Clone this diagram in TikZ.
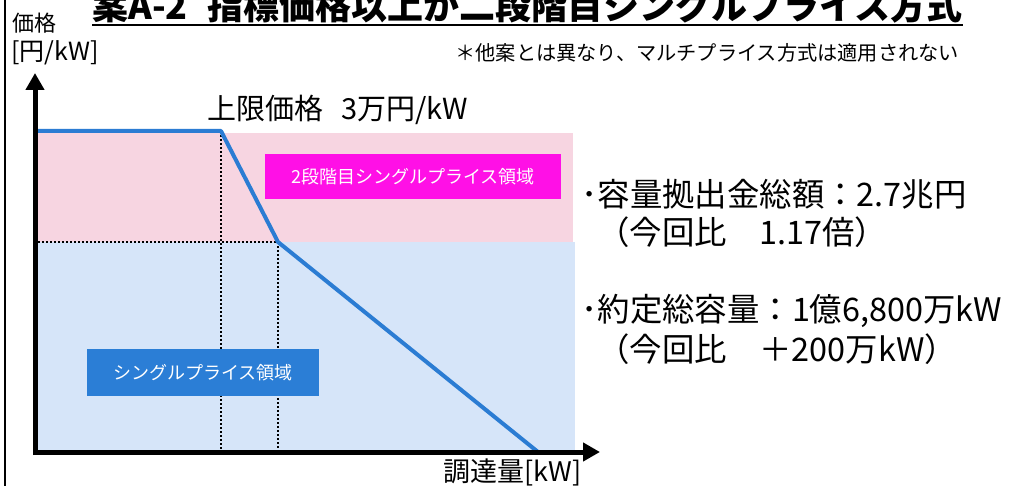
\documentclass[tikz,border=0pt]{standalone}
\usepackage{fontspec}
\setmainfont{Noto Sans CJK JP}
\usepackage{tikz}
\usetikzlibrary{arrows.meta}

\definecolor{upperpink}{HTML}{F7D5E1}
\definecolor{lowerblue}{HTML}{D6E5F9}
\definecolor{curveblue}{HTML}{2B7CD3}
\definecolor{boxmagenta}{HTML}{FF10E6}
\definecolor{boxblue}{HTML}{2B7ED6}

\tikzset{
  axisarrow/.style={line width=2.5pt, -{Triangle[length=8.5pt,width=9pt]}},
  guide/.style={line width=1pt, dash pattern=on 1pt off 1pt},
  areabox/.style={text=white, font=\fontsize{9}{9}\selectfont, inner sep=0pt},
  bigtext/.style={anchor=west, font=\fontsize{16.2}{16.2}\selectfont, inner sep=0pt},
}

\begin{document}
\begin{tikzpicture}[x=0.5pt,y=-0.5pt]% 1 unit = 1 px of the slide
  \clip (0,0) rectangle (1018,486);
  \fill[white] (0,0) rectangle (1018,486);

  % frame edge on the left
  \coordinate (frameTop) at (5,0);
  \coordinate (frameFoot) at (5,486);
  \draw[line width=1pt] (frameTop) -- (frameFoot);

  % price areas
  \fill[upperpink] (38,133) rectangle (573,242);
  \fill[lowerblue] (38,242) rectangle (575,452);

  \coordinate (capStart) at (38,131);
  \coordinate (capEnd) at (221,131);
  \coordinate (kink) at (278,242);
  \coordinate (zeroPt) at (538,452);
  \coordinate (capFoot) at (221,452);
  \coordinate (kinkFoot) at (278,452);
  \coordinate (kinkLeft) at (38,242);

  \draw[guide] (capEnd) -- (capFoot);
  \draw[guide] (kink) -- (kinkFoot);
  \draw[guide] (kinkLeft) -- (kink);

  \draw[curveblue, line width=2pt, line join=round] (capStart) -- (capEnd) -- (kink) -- (zeroPt);

  % axes
  \coordinate (yFoot) at (35,455);
  \coordinate (yTop) at (35,73);
  \coordinate (xStart) at (33,452);
  \coordinate (xEnd) at (600,452);
  \draw[axisarrow] (yFoot) -- (yTop);
  \draw[axisarrow] (xStart) -- (xEnd);

  \node[areabox, fill=boxmagenta, minimum width=148pt, minimum height=22.5pt] (secondBox) at (413,176.5) {2段階目シングルプライス領域};
  \node[areabox, fill=boxblue, minimum width=116pt, minimum height=23.5pt] (singleBox) at (203,372.5) {シングルプライス領域};

  \node[anchor=west, inner sep=0pt, font=\fontsize{14.5}{14.5}\selectfont] (capLabel) at (207,110) {上限価格\hspace{9pt}3万円/kW};
  \node[anchor=west, inner sep=0pt, font=\fontsize{11}{11}\selectfont] (priceLabel) at (12,23) {価格};
  \node[anchor=west, inner sep=0pt, font=\fontsize{12.5}{12.5}\selectfont] (unitLabel) at (11,53) {[円/kW]};
  \node[anchor=west, inner sep=0pt, font=\fontsize{13.5}{13.5}\selectfont] (qtyLabel) at (443,472) {調達量[kW]};
  \node[anchor=west, inner sep=0pt, font=\fontsize{10.1}{10.1}\selectfont] (note) at (455,53) {＊他案とは異なり、マルチプライス方式は適用されない};

  % title, cut by the top edge
  \node[anchor=base west, inner sep=0pt, font=\bfseries\fontsize{18}{18}\selectfont] (title) at (92,20) {案A-2\hspace{10pt}指標価格以上が二段階目シングルプライス方式};
  \draw[line width=1.4pt] ([yshift=-2.5pt]title.base west) -- ([yshift=-2.5pt]title.base east);

  % results
  \node[bigtext] (total1) at (581,194) {･容量拠出金総額：2.7兆円};
  \node[bigtext] (total1b) at (597,232) {（今回比　1.17倍）};
  \node[bigtext] (total2) at (581,311) {･約定総容量：1億6,800万kW};
  \node[bigtext] (total2b) at (597,349) {（今回比　＋200万kW）};
\end{tikzpicture}
\end{document}
